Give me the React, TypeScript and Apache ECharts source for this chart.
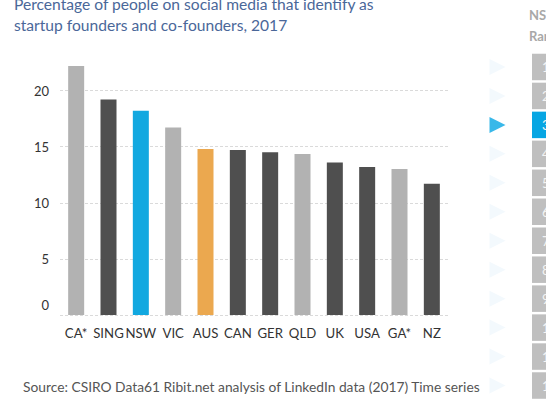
import React, { useEffect, useRef } from 'react';
import * as echarts from 'echarts';

// ---- data ----
const categories = ['CA*', 'SING', 'NSW', 'VIC', 'AUS', 'CAN', 'GER', 'QLD', 'UK', 'USA', 'GA*', 'NZ'];
const values = [22.2, 19.2, 18.2, 16.7, 14.8, 14.7, 14.5, 14.35, 13.6, 13.2, 13.0, 11.7];
const groups = ['region', 'country', 'nsw', 'region', 'aus', 'country', 'country', 'region', 'country', 'country', 'region', 'country'];
const yTicks = [0, 5, 10, 15, 20];
const ranks = ['1', '2', '3', '4', '5', '6', '7', '8', '9', '10', '11', '12'];
const activeRank = '3';
const titleText = 'Percentage of people on social media that identify as\nstartup founders and co-founders, 2017';
const sourceText = 'Source: CSIRO Data61 Ribit.net analysis of LinkedIn data (2017) Time series';
const panelHeader = 'NSW\nRank';

// ---- styles ----
const groupColors: Record<string, string> = {
  region: '#b2b2b2',
  country: '#4f4f4f',
  nsw: '#12a8e0',
  aus: '#eba84f',
};
const FONT = 'Lato';

export default function App() {
  const ref = useRef<HTMLDivElement>(null);
  useEffect(() => {
    document.body.style.margin = '0';
    if (!ref.current) return;
    const chart = echarts.init(ref.current, null, { renderer: 'svg' });
    const yMax = 23.5;
    chart.setOption({
      animation: false,
      backgroundColor: '#ffffff',
      textStyle: { fontFamily: FONT },
      title: [
        {
          text: titleText,
          left: 14,
          top: -7,
          padding: 0,
          textStyle: { fontFamily: FONT, fontSize: 15.6, lineHeight: 21, fontWeight: 'normal', color: '#4a6799' },
        },
        {
          text: panelHeader,
          left: 529,
          top: 4,
          padding: 0,
          textStyle: { fontFamily: FONT, fontSize: 13, lineHeight: 21, fontWeight: 'bold', color: '#a8a8a8' },
        },
        {
          text: sourceText,
          left: 23,
          top: 379,
          padding: 0,
          textStyle: { fontFamily: FONT, fontSize: 13.8, fontWeight: 'normal', color: '#555555' },
        },
      ],
      grid: [
        { left: 60, right: 98, top: 51.3, bottom: 85 },
        { left: 532, width: 40, top: 52.5, height: 354 },
        { left: 489, width: 17, top: 52.5, height: 354 },
      ],
      xAxis: [
        {
          type: 'category',
          gridIndex: 0,
          data: categories,
          axisLine: { show: false },
          axisTick: { show: false },
          axisLabel: { interval: 0, color: '#333333', fontSize: 13.2, margin: 11, fontFamily: FONT },
        },
        { type: 'value', gridIndex: 1, min: 0, max: 1, show: false },
        { type: 'value', gridIndex: 2, min: 0, max: 1, show: false },
      ],
      yAxis: [
        {
          type: 'value',
          gridIndex: 0,
          min: 0,
          max: yMax,
          interval: 5,
          axisLine: { show: false },
          axisTick: { show: false },
          splitLine: {
            show: true,
            showMaxLine: false,
            lineStyle: { color: '#dadada', type: [3, 2], width: 1 },
          },
          axisLabel: {
            showMaxLabel: false,
            color: '#333333',
            fontSize: 13,
            margin: 11,
            fontFamily: FONT,
            formatter: (v: number) => (yTicks.includes(v) ? (v === 0 ? '{z|0}' : String(v)) : ''),
            rich: { z: { fontSize: 13, color: '#333333', fontFamily: FONT, padding: [0, 0, 20, 0] } },
          },
        },
        { type: 'category', gridIndex: 1, data: ranks, inverse: true, show: false },
        { type: 'category', gridIndex: 2, data: ranks, inverse: true, show: false },
      ],
      series: [
        {
          type: 'bar',
          xAxisIndex: 0,
          yAxisIndex: 0,
          barWidth: 16,
          data: values.map((v, i) => ({ value: v, itemStyle: { color: groupColors[groups[i]] } })),
        },
        {
          type: 'bar',
          xAxisIndex: 1,
          yAxisIndex: 1,
          barWidth: 26.5,
          data: ranks.map((r) => ({
            value: 1,
            itemStyle: { color: r === activeRank ? '#07a6e3' : '#bfbfbf' },
          })),
          label: {
            show: true,
            position: 'insideLeft',
            distance: 10,
            formatter: (p: any) => ranks[p.dataIndex],
            color: '#f4f4f4',
            fontSize: 13,
            fontFamily: FONT,
          },
        },
        {
          type: 'scatter',
          xAxisIndex: 2,
          yAxisIndex: 2,
          symbol: 'triangle',
          symbolRotate: -90,
          symbolSize: 16,
          data: ranks.map((r, i) => ({
            value: [0.5, i],
            itemStyle: { color: r === activeRank ? '#07a6e3' : '#f0f7fd' },
          })),
        },
      ],
    });
    return () => chart.dispose();
  }, []);
  return <div ref={ref} style={{ width: 546, height: 400 }} />;
}
